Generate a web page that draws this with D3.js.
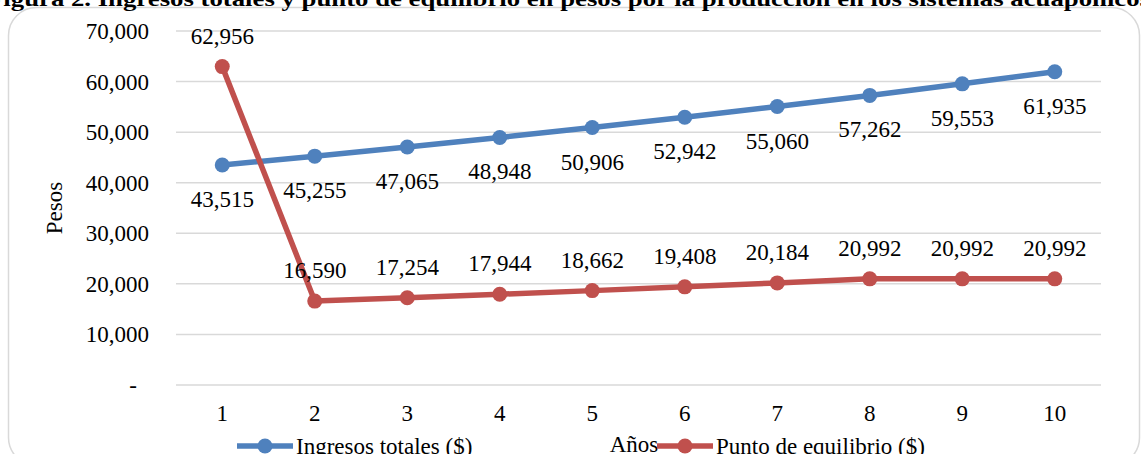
<!DOCTYPE html>
<html>
<head>
<meta charset="utf-8">
<script src="https://cdn.jsdelivr.net/npm/d3@7/dist/d3.min.js"></script>
<style>
  body { margin: 0; background: #fff; }
  svg text { font-family: "Liberation Serif", "Times New Roman", serif; fill: #000; }
</style>
</head>
<body>
<div id="chart"></div>
<script>
const years = ["1", "2", "3", "4", "5", "6", "7", "8", "9", "10"];
const ingresos = [43515, 45255, 47065, 48948, 50906, 52942, 55060, 57262, 59553, 61935];
const equilibrio = [62956, 16590, 17254, 17944, 18662, 19408, 20184, 20992, 20992, 20992];
const yTicks = [0, 10000, 20000, 30000, 40000, 50000, 60000, 70000];
const seriesNames = ["Ingresos totales ($)", "Punto de equilibrio ($)"];
const title = "Figura 2. Ingresos totales y punto de equilibrio en pesos por la producción en los sistemas acuapónicos";

(function () {
  const W = 1141, H = 454;
  const plot = {left: 176, right: 1101, top: 31, bottom: 385};
  const fs = 23;
  const colors = ["#4f81bd", "#c0504d"];

  const svg = d3.select("#chart").append("svg")
    .attr("width", W)
    .attr("height", H);

  // chart frame, runs off the bottom edge
  svg.append("rect")
    .attr("x", 8.5).attr("y", 7.5)
    .attr("width", 1131).attr("height", 458)
    .attr("rx", 28)
    .attr("fill", "none")
    .attr("stroke", "#d9d9d9")
    .attr("stroke-width", 1.5);

  // clipped caption
  svg.append("text")
    .attr("x", -13).attr("y", 6)
    .attr("font-size", 22)
    .attr("font-weight", "bold")
    .attr("textLength", 1163)
    .attr("lengthAdjust", "spacingAndGlyphs")
    .text(title);

  const x = d3.scaleBand()
    .domain(years)
    .range([plot.left, plot.right]);

  const y = d3.scaleLinear()
    .domain([0, 70000])
    .range([plot.bottom, plot.top]);

  const cx = function (d, i) { return x(years[i]) + x.bandwidth() / 2; };
  const fmt = d3.format(",");

  // gridlines
  svg.append("g")
    .selectAll("line")
    .data(yTicks)
    .join("line")
    .attr("x1", plot.left).attr("x2", plot.right)
    .attr("y1", d => y(d)).attr("y2", d => y(d))
    .attr("stroke", "#d9d9d9")
    .attr("stroke-width", 1.5);

  // y tick labels
  svg.append("g")
    .selectAll("text")
    .data(yTicks)
    .join("text")
    .attr("x", d => d === 0 ? 137 : 149)
    .attr("y", d => y(d) + 8)
    .attr("text-anchor", "end")
    .attr("font-size", fs)
    .text(d => d === 0 ? "-" : fmt(d));

  // x tick labels
  svg.append("g")
    .selectAll("text")
    .data(years)
    .join("text")
    .attr("x", d => x(d) + x.bandwidth() / 2)
    .attr("y", 421)
    .attr("text-anchor", "middle")
    .attr("font-size", fs)
    .text(d => d);

  svg.append("text")
    .attr("transform", "translate(62,208) rotate(-90)")
    .attr("text-anchor", "middle")
    .attr("font-size", fs)
    .text("Pesos");

  svg.append("text")
    .attr("x", 634).attr("y", 452)
    .attr("text-anchor", "middle")
    .attr("font-size", fs)
    .text("Años");

  const line = d3.line()
    .x(cx)
    .y(d => y(d));

  [ingresos, equilibrio].forEach(function (vals, k) {
    const g = svg.append("g");
    g.append("path")
      .attr("d", line(vals))
      .attr("fill", "none")
      .attr("stroke", colors[k])
      .attr("stroke-width", 5.5)
      .attr("stroke-linejoin", "round");
    g.selectAll("circle")
      .data(vals)
      .join("circle")
      .attr("cx", cx)
      .attr("cy", d => y(d))
      .attr("r", 7.5)
      .attr("fill", colors[k]);
    g.selectAll("text")
      .data(vals)
      .join("text")
      .attr("x", cx)
      .attr("y", d => y(d) + (k === 0 ? 34 : -31) + 8)
      .attr("text-anchor", "middle")
      .attr("font-size", fs)
      .text(d => fmt(d));
  });

  // legend
  const legendX = [237, 657];
  seriesNames.forEach(function (name, k) {
    const g = svg.append("g")
      .attr("transform", "translate(" + legendX[k] + ",446)");
    g.append("line")
      .attr("x1", 0).attr("x2", 56)
      .attr("stroke", colors[k])
      .attr("stroke-width", 5.5);
    g.append("circle")
      .attr("cx", 28)
      .attr("r", 7.5)
      .attr("fill", colors[k]);
    g.append("text")
      .attr("x", 59).attr("y", 8)
      .attr("font-size", fs)
      .text(name);
  });
})();
</script>
</body>
</html>
